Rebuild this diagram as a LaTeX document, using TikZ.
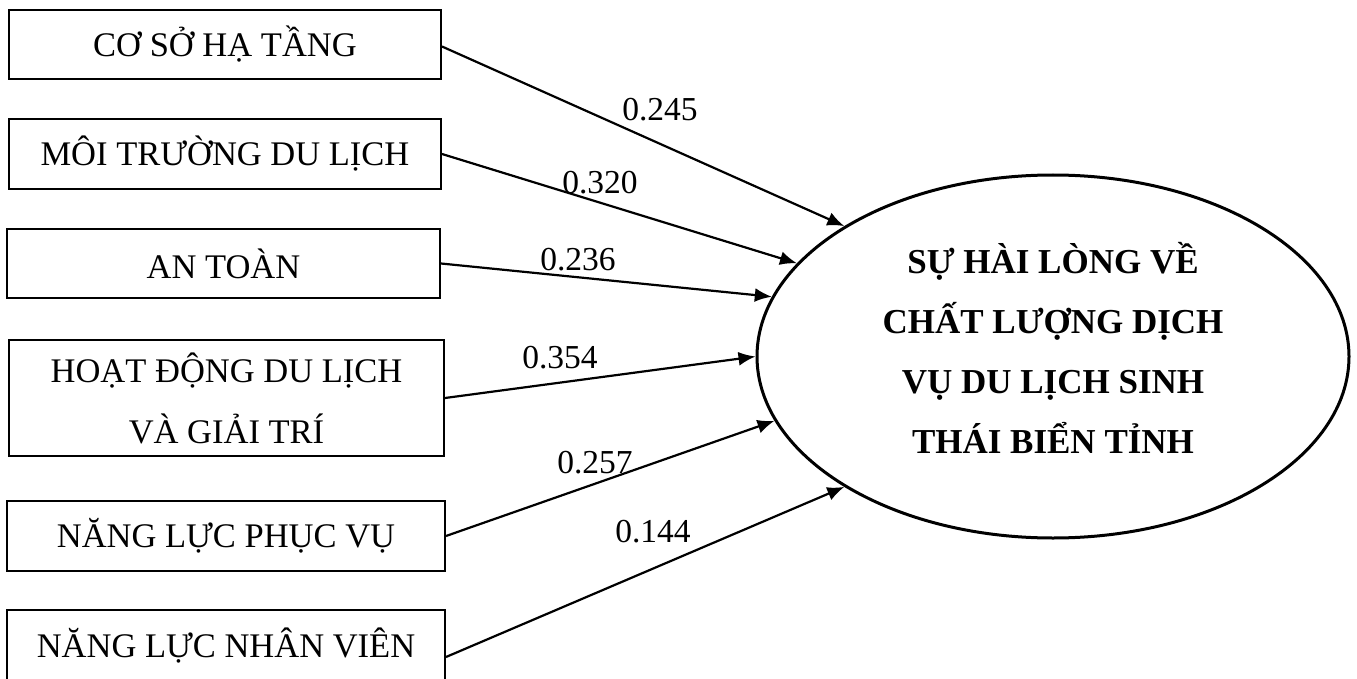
\documentclass[tikz,border=0pt]{standalone}
\usepackage{fontspec}
\setmainfont{Liberation Serif}
\usetikzlibrary{arrows.meta,shapes.geometric}
\begin{document}
\begin{tikzpicture}[x=1pt,y=-1pt,
 box/.style={draw,line width=2pt,inner sep=0pt,font=\fontsize{34.5}{61}\selectfont,align=center},
 conn/.style={line width=2.2pt,-{Latex[length=17pt,width=14pt]}},
 lab/.style={font=\fontsize{33.5}{40}\selectfont,inner sep=0pt}]
\useasboundingbox (0,0) rectangle (1357,679);
\node[box,minimum width=432pt,minimum height=69pt] (b1) at (225,44.5) {CƠ SỞ HẠ TẦNG};
\node[box,minimum width=432pt,minimum height=70pt] (b2) at (225,154) {MÔI TRƯỜNG DU LỊCH};
\node[box,minimum width=433pt,minimum height=69pt] (b3) at (223.5,263.5) {AN TOÀN};
\node[box,minimum width=435pt,minimum height=116pt] (b4) at (226.5,398) {HOẠT ĐỘNG DU LỊCH\\VÀ GIẢI TRÍ};
\node[box,minimum width=438pt,minimum height=70pt] (b5) at (226,536) {NĂNG LỰC PHỤC VỤ};
\node[box,minimum width=438pt,minimum height=72pt] (b6) at (226,646) {NĂNG LỰC NHÂN VIÊN};
\node[draw,ellipse,line width=3pt,minimum width=592pt,minimum height=363pt,inner sep=0pt] (ell) at (1053,356.5) {};
\node[font=\bfseries\fontsize{35}{60}\selectfont,align=center,inner sep=0pt] (t) at ([yshift=9pt]ell.center)
  {SỰ HÀI LÒNG VỀ\\CHẤT LƯỢNG DỊCH\\VỤ DU LỊCH SINH\\THÁI BIỂN TỈNH};
\draw[conn] ([yshift=-2pt]b1.east) -- (ell.148);
\draw[conn] (b2.east) -- (ell.160);
\draw[conn] (b3.east) -- (ell.168);
\draw[conn] (b4.east) -- (ell.180);
\draw[conn] (b5.east) -- (ell.193);
\draw[conn] ([yshift=-11pt]b6.east) -- (ell.212);
\node[lab] (l1) at (660,110) {0.245};
\node[lab] (l2) at (600,183) {0.320};
\node[lab] (l3) at (578,260) {0.236};
\node[lab] (l4) at (560,358) {0.354};
\node[lab] (l5) at (595,463) {0.257};
\node[lab] (l6) at (653,532) {0.144};
\end{tikzpicture}
\end{document}
